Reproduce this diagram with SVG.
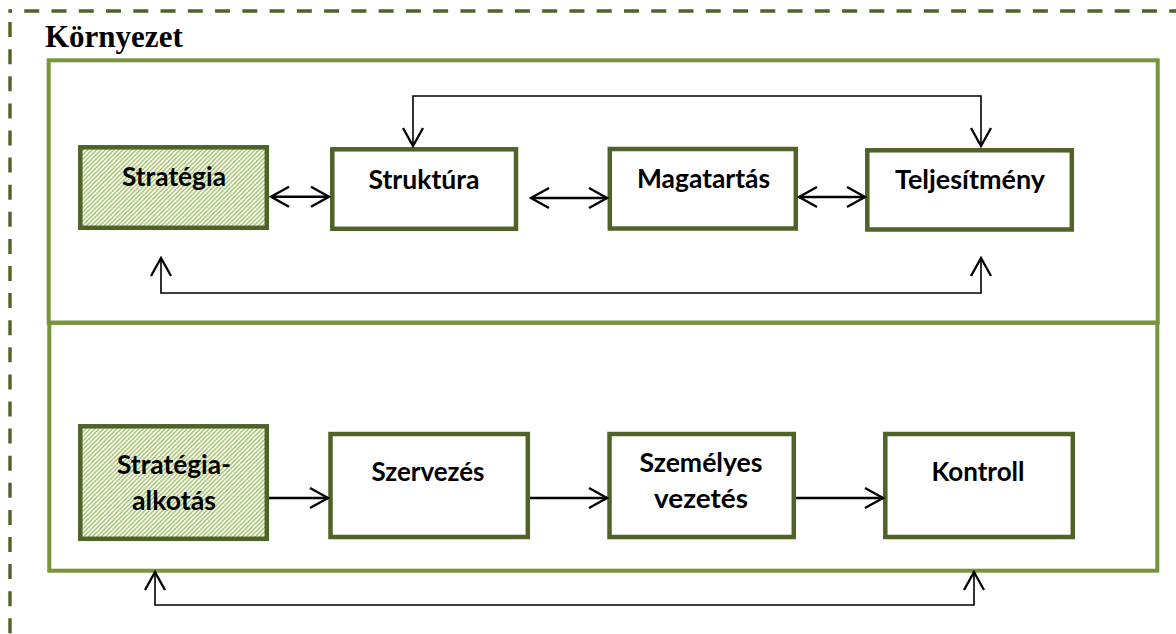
<svg xmlns="http://www.w3.org/2000/svg" width="1176" height="634" viewBox="0 0 1176 634">
  <style>
    .env { fill: none; stroke: #4F6228; stroke-width: 3.4; }
    .section { fill: none; stroke: #77933C; stroke-width: 4; }
    .box { fill: #FFFFFF; stroke: #4F6228; stroke-width: 4.5; }
    .box.hatched { fill: url(#hatch); }
    .label { font-family: Lato, "Open Sans", "Liberation Sans", sans-serif; font-weight: 700; font-size: 27px; fill: #000000; text-anchor: middle; }
    .title { font-family: "Liberation Serif", "Times New Roman", serif; font-weight: 700; font-size: 31px; fill: #000000; }
    .link { fill: none; stroke: #000000; stroke-width: 2.4; }
    .loop { fill: none; stroke: #000000; stroke-width: 1.6; }
  </style>
  <defs>
    <!-- light green diagonal stripes for the strategy boxes -->
    <pattern id="hatch" patternUnits="userSpaceOnUse" width="4.4" height="4.4">
      <rect width="4.4" height="4.4" fill="#FFFFFF"/>
      <path d="M-1.1,1.1 l2.2,-2.2 M0,4.4 l4.4,-4.4 M3.3,5.5 l2.2,-2.2" stroke="#9BBB59" stroke-width="1.4"/>
    </pattern>
    <!-- open V arrowhead -->
    <marker id="arrow" viewBox="-20 -12 22 24" refX="0" refY="0" markerWidth="22" markerHeight="24" markerUnits="userSpaceOnUse" orient="auto-start-reverse">
      <path d="M-18,-10 L0,0 L-18,10" fill="none" stroke="#000000" stroke-width="2.3" stroke-linejoin="miter"/>
    </marker>
  </defs>

  <rect width="1176" height="634" fill="#FFFFFF"/>

  <!-- environment frame (dashed) -->
  <g id="environment">
    <line class="env" x1="10" y1="11" x2="1176" y2="11" stroke-dasharray="15 12.26" stroke-dashoffset="13"/>
    <line class="env" x1="10" y1="11" x2="10" y2="634" stroke-dasharray="15 12.1" stroke-dashoffset="16"/>
    <rect x="8.3" y="9.3" width="3.4" height="3.4" fill="#4F6228"/>
    <text class="title" x="45" y="47">Környezet</text>
  </g>

  <!-- the two layers -->
  <g id="layer-upper">
    <rect class="section" x="48.7" y="60.3" width="1109" height="262.4"/>
  </g>
  <g id="layer-lower">
    <rect class="section" x="49.3" y="322.7" width="1108" height="248"/>
  </g>

  <!-- upper row -->
  <g id="strategia">
    <rect class="box hatched" x="80.3" y="147.3" width="186.5" height="80.5"/>
    <text class="label" x="174" y="186" textLength="104" lengthAdjust="spacingAndGlyphs">Stratégia</text>
  </g>
  <g id="struktura">
    <rect class="box" x="332.3" y="149.3" width="183.7" height="79.5"/>
    <text class="label" x="424" y="189" textLength="111" lengthAdjust="spacingAndGlyphs">Struktúra</text>
  </g>
  <g id="magatartas">
    <rect class="box" x="609.8" y="149" width="186" height="79.5"/>
    <text class="label" x="703.5" y="188" textLength="133" lengthAdjust="spacingAndGlyphs">Magatartás</text>
  </g>
  <g id="teljesitmeny">
    <rect class="box" x="867.3" y="150.3" width="204.5" height="79.2"/>
    <text class="label" x="970" y="189" textLength="150" lengthAdjust="spacingAndGlyphs">Teljesítmény</text>
  </g>

  <!-- lower row -->
  <g id="strategia-alkotas">
    <rect class="box hatched" x="80.3" y="426.3" width="186.5" height="112.5"/>
    <text class="label" x="174" y="474" textLength="114" lengthAdjust="spacingAndGlyphs">Stratégia-</text>
    <text class="label" x="174" y="510" textLength="84" lengthAdjust="spacingAndGlyphs">alkotás</text>
  </g>
  <g id="szervezes">
    <rect class="box" x="330.5" y="434" width="197.3" height="103"/>
    <text class="label" x="428" y="481" textLength="113" lengthAdjust="spacingAndGlyphs">Szervezés</text>
  </g>
  <g id="szemelyes-vezetes">
    <rect class="box" x="609.5" y="434" width="184.3" height="103"/>
    <text class="label" x="701" y="472" textLength="123" lengthAdjust="spacingAndGlyphs">Személyes</text>
    <text class="label" x="701" y="508" textLength="94" lengthAdjust="spacingAndGlyphs">vezetés</text>
  </g>
  <g id="kontroll">
    <rect class="box" x="885.3" y="434" width="187.5" height="103"/>
    <text class="label" x="978" y="481" textLength="93" lengthAdjust="spacingAndGlyphs">Kontroll</text>
  </g>

  <!-- connectors -->
  <g id="connectors">
    <!-- feedback loops -->
    <path class="loop" d="M413,146 V96 H981 V146" marker-start="url(#arrow)" marker-end="url(#arrow)"/>
    <path class="loop" d="M161,258 V293 H981 V258" marker-start="url(#arrow)" marker-end="url(#arrow)"/>
    <path class="loop" d="M155,572 V605 H974 V572" marker-start="url(#arrow)" marker-end="url(#arrow)"/>
    <!-- two-way links of the upper row -->
    <path class="link" d="M271,196.7 H329" marker-start="url(#arrow)" marker-end="url(#arrow)"/>
    <path class="link" d="M531,198 H607" marker-start="url(#arrow)" marker-end="url(#arrow)"/>
    <path class="link" d="M799,197 H865" marker-start="url(#arrow)" marker-end="url(#arrow)"/>
    <!-- process flow of the lower row -->
    <path class="link" d="M269,498 H328" marker-end="url(#arrow)"/>
    <path class="link" d="M530,498 H607" marker-end="url(#arrow)"/>
    <path class="link" d="M796,498 H883" marker-end="url(#arrow)"/>
  </g>
</svg>
